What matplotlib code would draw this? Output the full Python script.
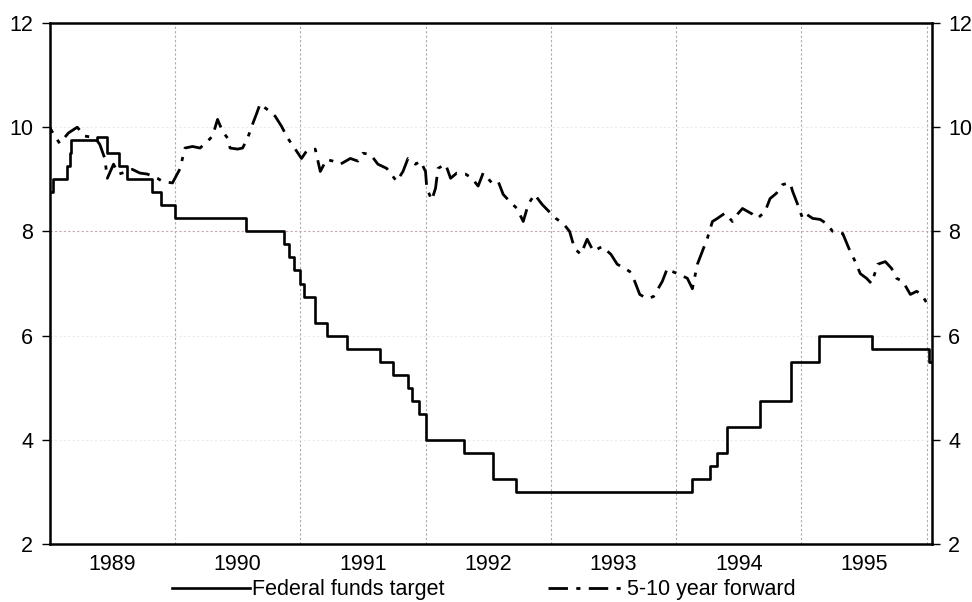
import numpy as np
import matplotlib
matplotlib.use("Agg")
import matplotlib.pyplot as plt

plt.rcParams['font.family'] = ['Liberation Sans', 'DejaVu Sans']

# Federal funds target: step changes (decimal year, rate)
ff_years = [1989.00, 1989.03, 1989.14, 1989.165, 1989.17, 1989.38, 1989.46, 1989.55,
            1989.62, 1989.82, 1989.89, 1990.00, 1990.57, 1990.87, 1990.91, 1990.95,
            1991.00, 1991.03, 1991.12, 1991.21, 1991.37, 1991.64, 1991.74, 1991.86,
            1991.89, 1991.95, 1992.00, 1992.31, 1992.54, 1992.72, 1994.13, 1994.27,
            1994.33, 1994.41, 1994.67, 1994.92, 1995.14, 1995.56, 1996.02, 1996.04]
ff_rates = [8.75, 9.0, 9.25, 9.5, 9.75, 9.81, 9.5, 9.25,
            9.0, 8.75, 8.5, 8.25, 8.0, 7.75, 7.5, 7.25,
            7.0, 6.75, 6.25, 6.0, 5.75, 5.5, 5.25, 5.0,
            4.75, 4.5, 4.0, 3.75, 3.25, 3.0, 3.25, 3.5,
            3.75, 4.25, 4.75, 5.5, 6.0, 5.75, 5.5, 5.5]

# 5-10 year forward rate
fw_years = [1989.00, 1989.00, 1989.03, 1989.08, 1989.15, 1989.22, 1989.28, 1989.36,
            1989.40, 1989.44, 1989.46, 1989.51, 1989.55, 1989.62, 1989.66, 1989.72,
            1989.78, 1989.86, 1989.90, 1989.98, 1990.04, 1990.08, 1990.14, 1990.20,
            1990.26, 1990.30, 1990.34, 1990.38, 1990.42, 1990.44, 1990.50, 1990.54,
            1990.58, 1990.62, 1990.65, 1990.68, 1990.72, 1990.76, 1990.80, 1990.85,
            1990.90, 1990.96, 1991.01, 1991.05, 1991.12, 1991.16, 1991.21, 1991.26,
            1991.32, 1991.40, 1991.46, 1991.50, 1991.56, 1991.62, 1991.69, 1991.77,
            1991.82, 1991.86, 1991.92, 1991.96, 1992.00, 1992.01, 1992.05, 1992.08,
            1992.10, 1992.16, 1992.20, 1992.25, 1992.32, 1992.37, 1992.42, 1992.46,
            1992.53, 1992.58, 1992.62, 1992.67, 1992.73, 1992.78, 1992.82, 1992.87,
            1992.93, 1992.97, 1993.04, 1993.10, 1993.15, 1993.19, 1993.24, 1993.29,
            1993.34, 1993.41, 1993.48, 1993.53, 1993.59, 1993.63, 1993.67, 1993.71,
            1993.77, 1993.82, 1993.89, 1993.93, 1993.97, 1994.03, 1994.09, 1994.13,
            1994.17, 1994.21, 1994.25, 1994.29, 1994.33, 1994.39, 1994.45, 1994.49,
            1994.53, 1994.61, 1994.65, 1994.71, 1994.75, 1994.80, 1994.85, 1994.91,
            1994.93, 1994.97, 1995.01, 1995.04, 1995.09, 1995.15, 1995.20, 1995.25,
            1995.33, 1995.38, 1995.43, 1995.47, 1995.52, 1995.56, 1995.61, 1995.67,
            1995.72, 1995.76, 1995.81, 1995.87, 1995.92, 1995.96, 1996.02]
fw_rates = [9.75, 10.0, 9.87, 9.69, 9.89, 10.0, 9.83, 9.80,
            9.67, 9.40, 9.02, 9.29, 9.10, 9.15, 9.19, 9.12,
            9.10, 9.02, 8.96, 8.93, 9.20, 9.60, 9.63, 9.60,
            9.73, 9.83, 10.15, 9.92, 9.79, 9.60, 9.58, 9.60,
            9.79, 10.06, 10.25, 10.45, 10.37, 10.30, 10.21, 10.02,
            9.79, 9.58, 9.40, 9.54, 9.58, 9.15, 9.38, 9.35,
            9.29, 9.40, 9.35, 9.50, 9.48, 9.29, 9.21, 8.96,
            9.15, 9.40, 9.29, 9.35, 9.15, 8.83, 8.60, 8.83,
            9.21, 9.29, 9.02, 9.12, 9.10, 9.02, 8.87, 9.12,
            8.93, 8.96, 8.71, 8.58, 8.44, 8.19, 8.52, 8.71,
            8.52, 8.42, 8.25, 8.15, 8.00, 7.67, 7.56, 7.85,
            7.62, 7.71, 7.56, 7.37, 7.29, 7.23, 7.04, 6.79,
            6.71, 6.75, 7.04, 7.29, 7.23, 7.17, 7.10, 6.90,
            7.37, 7.62, 7.87, 8.19, 8.25, 8.35, 8.19, 8.33,
            8.44, 8.33, 8.25, 8.38, 8.63, 8.73, 8.90, 8.93,
            8.77, 8.52, 8.25, 8.33, 8.25, 8.23, 8.15, 8.00,
            7.96, 7.67, 7.42, 7.19, 7.10, 7.00, 7.37, 7.42,
            7.29, 7.10, 7.04, 6.79, 6.85, 6.79, 6.55]

year_labels = ['1989', '1990', '1991', '1992', '1993', '1994', '1995']
y_ticks = [2, 4, 6, 8, 10, 12]

fig = plt.figure(figsize=(9.72, 6.02), dpi=100)
ax = fig.add_axes([0.0511, 0.0963, 0.9074, 0.8655])

ax.step(ff_years, ff_rates, where='post', color='black', lw=1.9,
        label='Federal funds target', zorder=3)
ax.plot(fw_years, fw_rates, color='black', lw=2.0, linestyle=(0, (7, 3, 1.5, 3)),
        label='5-10 year forward', zorder=3)

ax.set_xlim(1989.0, 1996.04)
ax.set_ylim(2, 12)

# vertical grid at year boundaries
for yr in range(1990, 1997):
    ax.axvline(yr, color='#b0a8a8', lw=0.8, ls=(0, (2, 2)), zorder=1)
for yv in [4, 6, 10]:
    ax.axhline(yv, color='#eeeaea', lw=0.8, ls=(0, (2, 2)), zorder=1)
ax.axhline(8, color='#c8a8a8', lw=0.8, ls=(0, (2, 2)), zorder=1)

ax.set_xticks([1989.5 + i for i in range(len(year_labels))])
ax.set_xticklabels(year_labels)
ax.tick_params(axis='x', length=0, labelsize=15.5, pad=7)

ax.set_yticks(y_ticks)
ax.set_yticklabels([str(v) for v in y_ticks])
ax.tick_params(axis='y', direction='out', length=6, width=1, labelsize=15.5,
               left=True, right=True, labelleft=True, labelright=True, pad=6)

for sp in ax.spines.values():
    sp.set_linewidth(1.8)

fig.legend(loc='center', bbox_to_anchor=(0.498, 0.02), ncol=2, frameon=False,
           fontsize=15.5, handlelength=3.6, handletextpad=0.1, columnspacing=4.8)

fig.savefig('out.png', dpi=100)
